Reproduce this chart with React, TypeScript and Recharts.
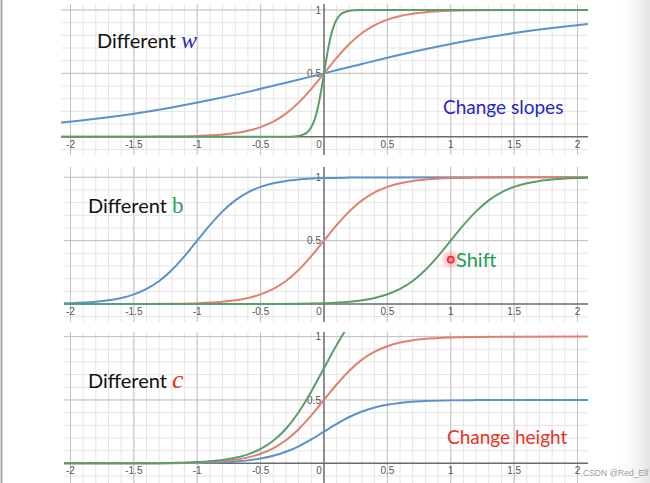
import React from 'react';
import { LineChart, Line, XAxis, YAxis, ReferenceLine, ReferenceDot } from 'recharts';

// grid + ticks (data space)
const minorX = [
  -2, -1.9, -1.8, -1.7, -1.6, -1.5, -1.4, -1.3, -1.2, -1.1, -1, -0.9, -0.8, -0.7, -0.6, -0.5, -0.4,
  -0.3, -0.2, -0.1, 0.1, 0.2, 0.3, 0.4, 0.5, 0.6, 0.7, 0.8, 0.9, 1, 1.1, 1.2, 1.3, 1.4, 1.5, 1.6,
  1.7, 1.8, 1.9, 2,
];
const minorY = [-0.1, 0.1, 0.2, 0.3, 0.4, 0.5, 0.6, 0.7, 0.8, 0.9, 1];
const majorX = [-2, -1.5, -1, -0.5, 0.5, 1, 1.5, 2];
const majorY = [0.5, 1];
const xTicks = [-2, -1.5, -1, -0.5, 0, 0.5, 1, 1.5, 2];
const xTickLabels = ['-2', '-1.5', '-1', '-0.5', '0', '0.5', '1', '1.5', '2'];
const yTicks = [0.5, 1];
const yTickLabels = ['0.5', '1'];

// panel 1: different w
const w1X = [-2.1, -1.8, -1.5, -1.2, -0.9, -0.6, -0.3, 0, 0.3, 0.6, 0.9, 1.2, 1.5, 1.8, 2.1];
const w1Y = [0.109, 0.142, 0.182, 0.231, 0.289, 0.354, 0.426, 0.5, 0.574, 0.646, 0.711, 0.769, 0.818, 0.858, 0.891];
const w5X = [-2.1, -1.4, -1.2, -1, -0.8, -0.7, -0.6, -0.5, -0.4, -0.3, -0.2, -0.1, 0, 0.1, 0.2, 0.3, 0.4, 0.5, 0.6, 0.7, 0.8, 1, 1.2, 1.4, 2.1];
const w5Y = [0, 0.0009, 0.0025, 0.0067, 0.018, 0.029, 0.047, 0.076, 0.119, 0.182, 0.269, 0.378, 0.5, 0.622, 0.731, 0.818, 0.881, 0.924, 0.953, 0.971, 0.982, 0.9933, 0.9975, 0.9991, 1];
const w25X = [-2.1, -0.3, -0.24, -0.2, -0.16, -0.14, -0.12, -0.1, -0.08, -0.06, -0.04, -0.02, 0, 0.02, 0.04, 0.06, 0.08, 0.1, 0.12, 0.14, 0.16, 0.2, 0.24, 0.3, 2.1];
const w25Y = [0, 0.0006, 0.0025, 0.0067, 0.018, 0.029, 0.047, 0.076, 0.119, 0.182, 0.269, 0.378, 0.5, 0.622, 0.731, 0.818, 0.881, 0.924, 0.953, 0.971, 0.982, 0.9933, 0.9975, 0.9994, 1];

// panel 2: different b
const bLeftX = [-2.1, -2, -1.8, -1.7, -1.6, -1.5, -1.4, -1.3, -1.2, -1.1, -1, -0.9, -0.8, -0.7, -0.6, -0.5, -0.4, -0.3, -0.2, 0, 0.2, 0.4, 2.1];
const bLeftY = [0.004, 0.0067, 0.018, 0.029, 0.047, 0.076, 0.119, 0.182, 0.269, 0.378, 0.5, 0.622, 0.731, 0.818, 0.881, 0.924, 0.953, 0.971, 0.982, 0.9933, 0.9975, 0.9991, 1];
const bRightX = [-2.1, -0.4, 0, 0.2, 0.4, 0.6, 0.7, 0.8, 0.9, 1, 1.1, 1.2, 1.3, 1.4, 1.5, 1.6, 1.7, 1.8, 2, 2.1];
const bRightY = [0, 0.0009, 0.0067, 0.018, 0.047, 0.119, 0.182, 0.269, 0.378, 0.5, 0.622, 0.731, 0.818, 0.881, 0.924, 0.953, 0.971, 0.982, 0.9933, 0.996];

// panel 3: different c
const cHalfY = [0, 0.00045, 0.0013, 0.0034, 0.009, 0.0145, 0.0235, 0.038, 0.0595, 0.091, 0.1345, 0.189, 0.25, 0.311, 0.3655, 0.409, 0.4405, 0.462, 0.4765, 0.4855, 0.491, 0.4967, 0.4988, 0.4996, 0.5];
const cBigX = [-2.1, -1.4, -1.2, -1, -0.8, -0.7, -0.6, -0.5, -0.4, -0.3, -0.2, -0.1, 0, 0.1, 0.2, 0.3];
const cBigY = [0, 0.0014, 0.0037, 0.01, 0.027, 0.0435, 0.0705, 0.114, 0.1785, 0.273, 0.4035, 0.567, 0.75, 0.933, 1.0965, 1.227];

const BLUE = '#5b92cb';
const RED = '#e2806f';
const GREEN = '#5b9e6c';
const TICK_FONT = '"Liberation Sans", Arial, sans-serif';
const TEXT_FONT = 'Lato, "Open Sans", sans-serif';
const VAR_FONT = '"Liberation Serif", "DejaVu Serif", serif';

const zip = (xs: number[], ys: number[]) => xs.map((x, i) => ({ x, y: ys[i] }));

type Series = { key: string; data: { x: number; y: number }[]; color: string };
type Panel = {
  left: number;
  top: number;
  width: number;
  height: number;
  xDomain: [number, number];
  yDomain: [number, number];
  series: Series[];
  laser?: boolean;
};

const panels: Panel[] = [
  {
    left: 61, top: 4, width: 527, height: 151,
    xDomain: [-2.075, 2.083], yDomain: [-0.144, 1.047],
    series: [
      { key: 'w1', data: zip(w1X, w1Y), color: BLUE },
      { key: 'w5', data: zip(w5X, w5Y), color: RED },
      { key: 'w25', data: zip(w25X, w25Y), color: GREEN },
    ],
  },
  {
    left: 64, top: 167, width: 524, height: 155,
    xDomain: [-2.051, 2.083], yDomain: [-0.142, 1.081],
    series: [
      { key: 'bl', data: zip(bLeftX, bLeftY), color: BLUE },
      { key: 'b0', data: zip(w5X, w5Y), color: RED },
      { key: 'br', data: zip(bRightX, bRightY), color: GREEN },
    ],
    laser: true,
  },
  {
    left: 64, top: 332, width: 524, height: 151,
    xDomain: [-2.051, 2.083], yDomain: [-0.155, 1.036],
    series: [
      { key: 'c05', data: zip(w5X, cHalfY), color: BLUE },
      { key: 'c1', data: zip(w5X, w5Y), color: RED },
      { key: 'c15', data: zip(cBigX, cBigY), color: GREEN },
    ],
  },
];

const LaserDot = (props: any) => {
  const { cx, cy } = props;
  if (cx == null || cy == null) return null;
  return (
    <g>
      <defs>
        <radialGradient id="laserGlow">
          <stop offset="0%" stopColor="#ff4a4a" stopOpacity={0.6} />
          <stop offset="60%" stopColor="#ff7070" stopOpacity={0.25} />
          <stop offset="100%" stopColor="#ff8a8a" stopOpacity={0} />
        </radialGradient>
      </defs>
      <circle cx={cx} cy={cy} r={11} fill="url(#laserGlow)" />
      <circle cx={cx} cy={cy} r={3} fill="#ff9090" stroke="#e8283a" strokeWidth={1.6} />
    </g>
  );
};

const PanelChart = ({ p }: { p: Panel }) => (
  <div style={{ position: 'absolute', left: p.left, top: p.top, width: p.width, height: p.height }}>
    <div style={{ position: 'absolute', left: 0, top: 0 }}>
      <LineChart width={p.width} height={p.height} margin={{ top: 0, right: 0, bottom: 0, left: 0 }}>
        <XAxis type="number" dataKey="x" domain={p.xDomain} allowDataOverflow hide />
        <YAxis type="number" dataKey="y" domain={p.yDomain} allowDataOverflow hide />
        {minorX.map((v) => (
          <ReferenceLine key={`mx${v}`} x={v} stroke="#e5e5e5" strokeWidth={1} />
        ))}
        {minorY.map((v) => (
          <ReferenceLine key={`my${v}`} y={v} stroke="#e5e5e5" strokeWidth={1} />
        ))}
        {majorX.map((v) => (
          <ReferenceLine key={`Mx${v}`} x={v} stroke="#c2c2c2" strokeWidth={1} />
        ))}
        {majorY.map((v) => (
          <ReferenceLine key={`My${v}`} y={v} stroke="#c2c2c2" strokeWidth={1} />
        ))}
        <ReferenceLine x={0} stroke="#6a6a6a" strokeWidth={1.5} />
        <ReferenceLine y={0} stroke="#6a6a6a" strokeWidth={1.5} />
        {xTicks.map((v, i) => (
          <ReferenceDot
            key={`xt${v}`}
            x={v}
            y={0}
            r={1}
            fill="none"
            stroke="none"
            label={{
              value: xTickLabels[i],
              position: 'bottom',
              offset: 3,
              fill: '#555',
              fontSize: 10,
              fontFamily: TICK_FONT,
              dx: v === 0 ? -5 : 0,
            }}
          />
        ))}
        {yTicks.map((v, i) => (
          <ReferenceDot
            key={`yt${v}`}
            x={0}
            y={v}
            r={1}
            fill="none"
            stroke="none"
            label={{
              value: yTickLabels[i],
              position: 'left',
              offset: 2,
              fill: '#555',
              fontSize: 10,
              fontFamily: TICK_FONT,
            }}
          />
        ))}
      </LineChart>
    </div>
    <div style={{ position: 'absolute', left: 0, top: 0 }}>
      <LineChart width={p.width} height={p.height} margin={{ top: 0, right: 0, bottom: 0, left: 0 }}>
        <XAxis type="number" dataKey="x" domain={p.xDomain} allowDataOverflow hide />
        <YAxis type="number" dataKey="y" domain={p.yDomain} allowDataOverflow hide />
        {p.series.map((s) => (
          <Line
            key={s.key}
            data={s.data}
            dataKey="y"
            type="monotone"
            stroke={s.color}
            strokeWidth={2}
            dot={false}
            activeDot={false}
            isAnimationActive={false}
          />
        ))}
        {p.laser && <ReferenceDot x={1} y={0.35} r={3} shape={<LaserDot />} />}
      </LineChart>
    </div>
  </div>
);

export default function App() {
  return (
    <div
      style={{
        position: 'absolute',
        left: 0,
        top: 0,
        width: 650,
        height: 483,
        background: '#fff',
        overflow: 'hidden',
      }}
    >
      {panels.map((p, i) => (
        <PanelChart key={i} p={p} />
      ))}
      <svg width={650} height={483} style={{ position: 'absolute', left: 0, top: 0, pointerEvents: 'none' }}>
        <defs>
          <linearGradient id="rightShade" x1="0" x2="1" y1="0" y2="0">
            <stop offset="0%" stopColor="#ffffff" stopOpacity={0} />
            <stop offset="100%" stopColor="#e4e4e4" stopOpacity={1} />
          </linearGradient>
        </defs>
        <rect x={612} y={0} width={38} height={483} fill="url(#rightShade)" />
        <line x1={1.5} y1={0} x2={1.5} y2={483} stroke="#a8a8a8" strokeWidth={2} />

        <text x={97} y={48} fontFamily={TEXT_FONT} fontSize={20} fill="#111">
          Different{' '}
          <tspan fontFamily={VAR_FONT} fontStyle="italic" fontSize={24} fill="#2a2ab8">w</tspan>
        </text>
        <text x={443} y={114} fontFamily={TEXT_FONT} fontSize={19} fill="#2626c4">Change slopes</text>

        <text x={88} y={213} fontFamily={TEXT_FONT} fontSize={20} fill="#111">
          Different{' '}
          <tspan fontFamily={VAR_FONT} fontSize={23} fill="#2ca35c">b</tspan>
        </text>
        <text x={456} y={267} fontFamily={TEXT_FONT} fontSize={20} fill="#1d9c58">Shift</text>

        <text x={88} y={388} fontFamily={TEXT_FONT} fontSize={20} fill="#111">
          Different{' '}
          <tspan fontFamily={VAR_FONT} fontStyle="italic" fontSize={26} fill="#de3020">c</tspan>
        </text>
        <text x={447} y={444} fontFamily={TEXT_FONT} fontSize={19} fill="#e6321f">Change height</text>

        <text x={583} y={476} fontFamily={TICK_FONT} fontSize={8.5} fill="#9a9a9a">CSDN @Red_Elf</text>
      </svg>
    </div>
  );
}
